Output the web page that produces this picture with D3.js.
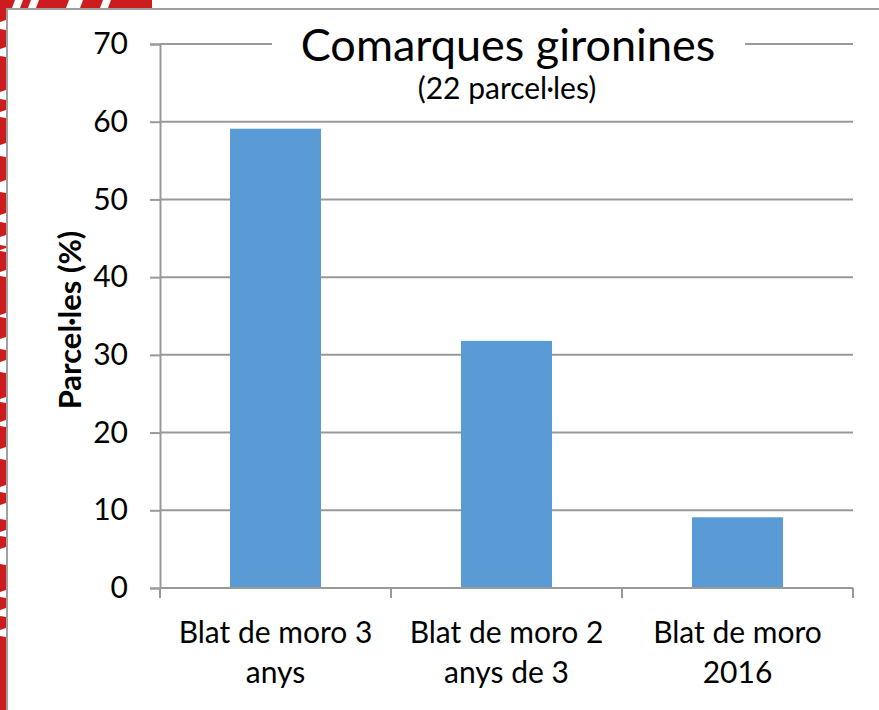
<!DOCTYPE html>
<html>
<head>
<meta charset="utf-8">
<script src="https://cdn.jsdelivr.net/npm/d3@7"></script>
<style>
  html, body { margin: 0; padding: 0; background: #fff; }
  svg { display: block; }
  text { font-family: Lato, "Open Sans", sans-serif; fill: #000; }
</style>
</head>
<body>
<svg id="chart" width="879" height="710"></svg>
<script>
const categories = [["Blat de moro 3", "anys"], ["Blat de moro 2", "anys de 3"], ["Blat de moro", "2016"]];
const values = [59.1, 31.8, 9.1];
const yTicks = [0, 10, 20, 30, 40, 50, 60, 70];
const titleText = "Comarques gironines";
const subtitleText = "(22 parcel·les)";
const yAxisTitle = "Parcel·les (%)";

(function () {
const svg = d3.select("#chart");
const W = 879, H = 710;
const pL = 160, pR = 853, pT = 44, pB = 588;
const gridColor = "#999";

// decorative red background strips (left and top-left)
const deco = svg.append("g");
deco.append("rect").attr("x", 0).attr("y", 0).attr("width", 6).attr("height", H).attr("fill", "#cc1c1e");
deco.append("rect").attr("x", 0).attr("y", 0).attr("width", 152).attr("height", 8).attr("fill", "#cc1c1e");
const whiteGapsLeft = [[20,30],[47,57],[90,100],[110,118],[143,157],[180,193],[213,223],[235,246],[248,252],[270,277],[313,318],[337,350],[360,373],[397,403],[420,427],[447,460],[485,493],[503,520],[530,537],[547,565],[590,598],[608,617],[628,637]];
whiteGapsLeft.forEach(([a, b]) => {
  deco.append("polygon")
    .attr("points", `0,${a+2} 6,${a} 6,${b} 0,${b-1}`)
    .attr("fill", "#fff");
});
const whiteGapsTop = [[12,20],[28,36],[66,80],[100,108]];
whiteGapsTop.forEach(([a, b]) => {
  deco.append("polygon")
    .attr("points", `${a+3},0 ${b+3},0 ${b},8 ${a},8`)
    .attr("fill", "#fff");
});

// chart box
svg.append("rect").attr("x", 7).attr("y", 9).attr("width", W).attr("height", H).attr("fill", "#fff");
svg.append("path").attr("d", `M7,${H} L7,9 L${W},9`).attr("fill", "none").attr("stroke", "#a0a0a0").attr("stroke-width", 2);

const x = d3.scaleBand().domain(d3.range(categories.length)).range([pL, pR]).paddingInner(0.606).paddingOuter(0.303);
const xOuter = d3.scaleBand().domain(d3.range(categories.length)).range([pL, pR]);
const y = d3.scaleLinear().domain([0, 70]).range([pB, pT]);

// gridlines
svg.append("g").selectAll("line").data(yTicks.filter(t => t > 0)).join("line")
  .attr("x1", pL).attr("x2", pR)
  .attr("y1", d => y(d)).attr("y2", d => y(d))
  .attr("stroke", gridColor).attr("stroke-width", 2);

// bars
svg.append("g").selectAll("rect").data(values).join("rect")
  .attr("x", (d, i) => x(i)).attr("width", x.bandwidth())
  .attr("y", d => y(d)).attr("height", d => y(0) - y(d))
  .attr("fill", "#5b9bd5");

// y axis
const yAxis = d3.axisLeft(y).tickValues(yTicks).tickSize(10).tickPadding(22).tickFormat(d3.format("d"));
const gy = svg.append("g").attr("transform", `translate(${pL},0)`).call(yAxis);
gy.select(".domain").attr("stroke", gridColor).attr("stroke-width", 2);
gy.selectAll(".tick line").attr("stroke", gridColor).attr("stroke-width", 2);
gy.selectAll(".tick text").attr("font-size", 30).attr("font-family", "Lato").attr("fill", "#000");

// x axis
const gx = svg.append("g").attr("transform", `translate(0,${pB})`);
gx.append("line").attr("x1", pL).attr("x2", pR).attr("y1", 0).attr("y2", 0).attr("stroke", gridColor).attr("stroke-width", 2);
const bounds = d3.range(categories.length + 1).map(i => i < categories.length ? xOuter(i) : xOuter(i - 1) + xOuter.bandwidth());
gx.selectAll("line.tk").data(bounds).join("line").attr("class", "tk")
  .attr("x1", d => d).attr("x2", d => d).attr("y1", 0).attr("y2", 10)
  .attr("stroke", gridColor).attr("stroke-width", 2);
const labels = gx.selectAll("text.lbl").data(categories).join("text").attr("class", "lbl")
  .attr("text-anchor", "middle").attr("font-size", 30);
labels.each(function(d, i) {
  const t = d3.select(this);
  const cx = xOuter(i) + xOuter.bandwidth() / 2;
  d.forEach((line, j) => {
    t.append("tspan").attr("x", cx).attr("y", 55 + j * 40).text(line);
  });
});

// y axis title
svg.append("text")
  .attr("transform", "translate(81,320) rotate(-90)")
  .attr("text-anchor", "middle").attr("font-size", 31).attr("font-weight", "bold")
  .text(yAxisTitle);

// title with white background
svg.append("rect").attr("x", 272).attr("y", 30).attr("width", 473).attr("height", 30).attr("fill", "#fff");
svg.append("text").attr("x", 508).attr("y", 61).attr("text-anchor", "middle").attr("font-size", 45).text(titleText);
svg.append("text").attr("x", 507).attr("y", 99).attr("text-anchor", "middle").attr("font-size", 30).text(subtitleText);
})();
</script>
</body>
</html>
